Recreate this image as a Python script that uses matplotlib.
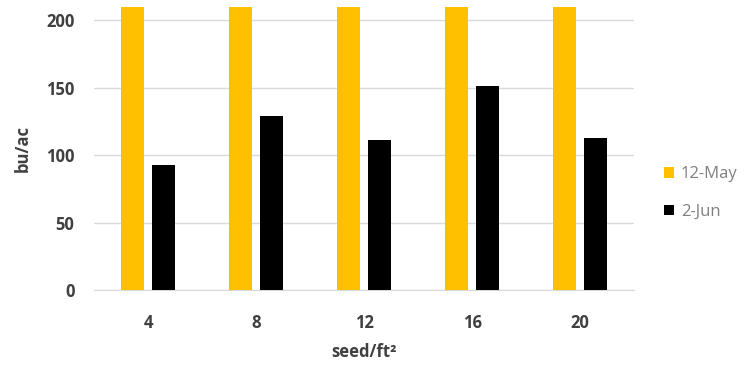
import matplotlib
matplotlib.use("Agg")
import matplotlib.pyplot as plt
import numpy as np

categories = ["4", "8", "12", "16", "20"]
may12 = [240, 240, 240, 240, 240]
jun2 = [93, 129, 111, 151, 113]
series_names = ["12-May", "2-Jun"]
yticks = [0, 50, 100, 150, 200]

plt.rcParams['font.family'] = ['Open Sans', 'DejaVu Sans']

fig = plt.figure(figsize=(7.46, 3.71), dpi=100)
ax = fig.add_axes([0.126, 0.218, 0.724, 0.764])

x = np.arange(len(categories))
w = 0.213
off = 0.144
ax.bar(x - off, may12, width=w, color="#FFC000", label=series_names[0], zorder=3)
ax.bar(x + off, jun2, width=w, color="#000000", label=series_names[1], zorder=3)

ax.set_xlim(-0.5, len(categories) - 0.5)
ax.set_ylim(0, 210)
ax.set_yticks(yticks)
ax.set_xticks(x)
ax.set_xticklabels(categories, fontsize=12, fontweight="bold", color="#404040")
ax.tick_params(axis="y", labelsize=12, labelcolor="#404040", length=0, pad=14)
ax.tick_params(axis="x", length=0, pad=17)
for lbl in ax.get_yticklabels():
    lbl.set_fontweight("bold")
ax.grid(axis="y", color="#d9d9d9", linewidth=1, zorder=0)
for s in ["top", "right", "left"]:
    ax.spines[s].set_visible(False)
ax.spines["bottom"].set_color("#d9d9d9")

ax.set_ylabel("bu/ac", fontsize=12, fontweight="bold", color="#404040", labelpad=10)
ax.set_xlabel("seed/ft²", fontsize=12, fontweight="bold", color="#404040", labelpad=8)

leg = fig.legend(loc="center left", bbox_to_anchor=(0.87, 0.48), frameon=False,
                 handlelength=0.6, handleheight=0.6, handletextpad=0.4,
                 labelspacing=1.3, fontsize=12)
for t in leg.get_texts():
    t.set_color("#808080")

fig.savefig("out.png", dpi=100)
